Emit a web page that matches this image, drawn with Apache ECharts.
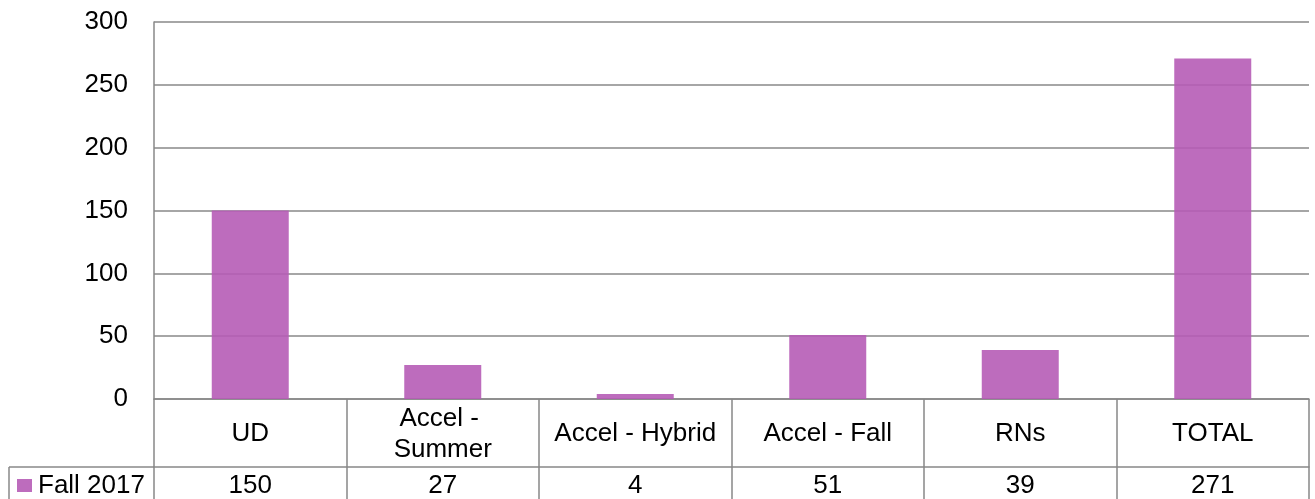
<!DOCTYPE html>
<html>
<head>
<meta charset="utf-8">
<title>Fall 2017</title>
<script src="https://cdn.jsdelivr.net/npm/echarts@6/dist/echarts.min.js"></script>
<style>
  html, body { margin: 0; padding: 0; background: #fff; }
  #chart { width: 1315px; height: 499px; }
</style>
</head>
<body>
<div id="chart"></div>
<script>
// data
var categories = ['UD', 'Accel - Summer', 'Accel - Hybrid', 'Accel - Fall', 'RNs', 'TOTAL']
var seriesName = 'Fall 2017'
var fall2017 = [150, 27, 4, 51, 39, 271]
var yTicks = [0, 50, 100, 150, 200, 250, 300]

var lineColor = '#888888'
var lineW = 1.5
var barColor = '#B65CB6'
var font = "'Liberation Sans', Arial, sans-serif"

// plot area (px)
var gridLeft = 154
var gridRight = 6
var gridTop = 22
var gridBottom = 100
var rowH = 68 // height of category row in the data table

var chart = echarts.init(document.getElementById('chart'))

chart.setOption({
  animation: false,
  textStyle: { fontFamily: font, color: '#000' },
  grid: {
    left: gridLeft,
    right: gridRight,
    top: gridTop,
    bottom: gridBottom,
    containLabel: false
  },
  legend: {
    data: [seriesName],
    left: 17,
    top: 468,
    padding: 0,
    icon: 'rect',
    itemWidth: 15,
    itemHeight: 13,
    textStyle: { fontSize: 26, fontFamily: font, color: '#000', lineHeight: 26, padding: [9, 0, 0, 1] }
  },
  xAxis: [
    {
      type: 'category',
      data: categories,
      position: 'bottom',
      axisLine: { show: true, lineStyle: { color: lineColor, width: lineW } },
      axisTick: { show: true, interval: 0, length: 100, lineStyle: { color: lineColor, width: lineW } },
      axisLabel: {
        interval: 0,
        fontSize: 26,
        fontFamily: font,
        color: '#000',
        width: 176,
        overflow: 'break',
        lineHeight: 31,
        verticalAlign: 'middle',
        margin: 35
      }
    },
    {
      // value row of the data table
      type: 'category',
      data: fall2017.map(function (v) { return String(v) }),
      position: 'bottom',
      offset: rowH,
      axisLine: { show: true, lineStyle: { color: lineColor, width: lineW } },
      axisTick: { show: false },
      axisLabel: {
        interval: 0,
        fontSize: 26,
        fontFamily: font,
        color: '#000',
        verticalAlign: 'middle',
        margin: 19
      }
    }
  ],
  yAxis: {
    type: 'value',
    min: yTicks[0],
    max: yTicks[yTicks.length - 1],
    interval: yTicks[1] - yTicks[0],
    axisLine: { show: true, lineStyle: { color: lineColor, width: lineW } },
    axisTick: { show: false },
    axisLabel: { fontSize: 26, fontFamily: font, color: '#000', margin: 26 },
    splitLine: { show: true, lineStyle: { color: lineColor, width: lineW } }
  },
  series: [
    {
      name: seriesName,
      type: 'bar',
      xAxisIndex: 0,
      data: fall2017,
      barWidth: '40%',
      itemStyle: { color: barColor, opacity: 0.9 }
    }
  ],
  // legend cell borders of the data table
  graphic: [
    {
      type: 'line',
      shape: { x1: 9, y1: 499 - gridBottom + rowH, x2: gridLeft, y2: 499 - gridBottom + rowH },
      style: { stroke: lineColor, lineWidth: lineW }
    },
    {
      type: 'line',
      shape: { x1: 9, y1: 499 - gridBottom + rowH, x2: 9, y2: 499 },
      style: { stroke: lineColor, lineWidth: lineW }
    }
  ]
})
</script>
</body>
</html>
